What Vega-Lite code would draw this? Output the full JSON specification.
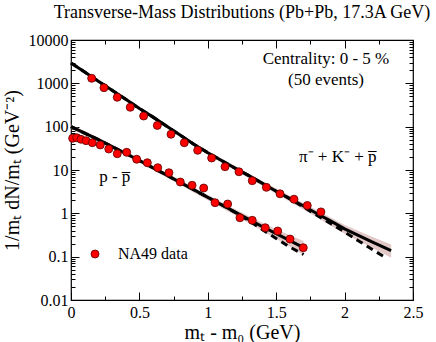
{
  "$schema": "https://vega.github.io/schema/vega-lite/v6.json",
  "width": 342,
  "height": 260,
  "autosize": {"type": "none"},
  "padding": {"left": 71, "top": 40, "right": 23, "bottom": 42},
  "background": "white",
  "config": {
    "font": "Liberation Serif",
    "view": {"stroke": "black", "strokeWidth": 1.2},
    "axis": {"domain": false, "grid": false, "tickColor": "black", "tickWidth": 1, "labelColor": "black", "titleColor": "black", "labelFont": "Liberation Serif", "titleFont": "Liberation Serif", "labelFontSize": 16, "titleFontSize": 20, "titleFontWeight": "normal"}
  },
  "title": {"text": "Transverse-Mass Distributions (Pb+Pb, 17.3A GeV)", "font": "Liberation Serif", "fontSize": 18, "fontWeight": "normal", "color": "black", "anchor": "middle", "offset": 10},
  "datasets": {
    "pts": [
      {"s": "NA49 data", "x": 0.151, "y": 1306}, {"s": "NA49 data", "x": 0.241, "y": 793}, {"s": "NA49 data", "x": 0.338, "y": 476}, {"s": "NA49 data", "x": 0.433, "y": 280}, {"s": "NA49 data", "x": 0.531, "y": 176}, {"s": "NA49 data", "x": 0.631, "y": 107}, {"s": "NA49 data", "x": 0.731, "y": 66.7}, {"s": "NA49 data", "x": 0.828, "y": 42.7}, {"s": "NA49 data", "x": 0.926, "y": 28.5}, {"s": "NA49 data", "x": 1.028, "y": 18.9}, {"s": "NA49 data", "x": 1.126, "y": 11.9}, {"s": "NA49 data", "x": 1.228, "y": 9.1}, {"s": "NA49 data", "x": 1.325, "y": 5.66}, {"s": "NA49 data", "x": 1.428, "y": 3.98}, {"s": "NA49 data", "x": 1.528, "y": 2.82}, {"s": "NA49 data", "x": 1.63, "y": 2.12}, {"s": "NA49 data", "x": 1.727, "y": 1.52}, {"s": "NA49 data", "x": 1.827, "y": 1.08},
      {"s": "NA49 data", "x": 0.012, "y": 53.9}, {"s": "NA49 data", "x": 0.042, "y": 55.6}, {"s": "NA49 data", "x": 0.073, "y": 51.1}, {"s": "NA49 data", "x": 0.11, "y": 47.4}, {"s": "NA49 data", "x": 0.156, "y": 42.7}, {"s": "NA49 data", "x": 0.214, "y": 37.8}, {"s": "NA49 data", "x": 0.276, "y": 30.5}, {"s": "NA49 data", "x": 0.338, "y": 23.8}, {"s": "NA49 data", "x": 0.407, "y": 25.6}, {"s": "NA49 data", "x": 0.48, "y": 17.7}, {"s": "NA49 data", "x": 0.558, "y": 14.7}, {"s": "NA49 data", "x": 0.634, "y": 11.3}, {"s": "NA49 data", "x": 0.716, "y": 8.65}, {"s": "NA49 data", "x": 0.799, "y": 5.28}, {"s": "NA49 data", "x": 0.885, "y": 4.44}, {"s": "NA49 data", "x": 0.97, "y": 3.84}, {"s": "NA49 data", "x": 1.053, "y": 1.76}, {"s": "NA49 data", "x": 1.145, "y": 1.64}, {"s": "NA49 data", "x": 1.235, "y": 0.79}, {"s": "NA49 data", "x": 1.325, "y": 0.69}, {"s": "NA49 data", "x": 1.42, "y": 0.466}, {"s": "NA49 data", "x": 1.511, "y": 0.391}, {"s": "NA49 data", "x": 1.601, "y": 0.255}, {"s": "NA49 data", "x": 1.698, "y": 0.161}
    ],
    "curves": [
      {"c": "u", "x": 0, "y": 2951, "d": 2951}, {"c": "u", "x": 0.1, "y": 1820, "d": 1820}, {"c": "u", "x": 0.2, "y": 1122, "d": 1122}, {"c": "u", "x": 0.3, "y": 692, "d": 692}, {"c": "u", "x": 0.4, "y": 427, "d": 427}, {"c": "u", "x": 0.5, "y": 263, "d": 263}, {"c": "u", "x": 0.6, "y": 166, "d": 166}, {"c": "u", "x": 0.7, "y": 102, "d": 102}, {"c": "u", "x": 0.8, "y": 63.1, "d": 63.1}, {"c": "u", "x": 0.9, "y": 38.9, "d": 38.9}, {"c": "u", "x": 1.0, "y": 25.1, "d": 25.1}, {"c": "u", "x": 1.1, "y": 16.6, "d": 16.6}, {"c": "u", "x": 1.2, "y": 11.0, "d": 11.0}, {"c": "u", "x": 1.3, "y": 7.41, "d": 7.41}, {"c": "u", "x": 1.4, "y": 4.9, "d": 4.9}, {"c": "u", "x": 1.5, "y": 3.24, "d": 3.24}, {"c": "u", "x": 1.6, "y": 2.19, "d": 2.15}, {"c": "u", "x": 1.7, "y": 1.48, "d": 1.4}, {"c": "u", "x": 1.8, "y": 0.977, "d": 0.891}, {"c": "u", "x": 1.9, "y": 0.661, "d": 0.575}, {"c": "u", "x": 2.0, "y": 0.437, "d": 0.372}, {"c": "u", "x": 2.1, "y": 0.309, "d": 0.234}, {"c": "u", "x": 2.2, "y": 0.219, "d": 0.148}, {"c": "u", "x": 2.3, "y": 0.158, "d": 0.095}, {"c": "u", "x": 2.34, "y": 0.138},
      {"c": "l", "x": 0, "y": 100, "d": 100}, {"c": "l", "x": 0.1, "y": 70.8, "d": 70.8}, {"c": "l", "x": 0.2, "y": 50.1, "d": 50.1}, {"c": "l", "x": 0.3, "y": 34.7, "d": 34.7}, {"c": "l", "x": 0.4, "y": 24.0, "d": 24.0}, {"c": "l", "x": 0.5, "y": 16.6, "d": 16.6}, {"c": "l", "x": 0.6, "y": 11.2, "d": 11.2}, {"c": "l", "x": 0.7, "y": 7.59, "d": 7.59}, {"c": "l", "x": 0.8, "y": 5.13, "d": 5.13}, {"c": "l", "x": 0.9, "y": 3.47, "d": 3.47}, {"c": "l", "x": 1.0, "y": 2.34, "d": 2.34}, {"c": "l", "x": 1.1, "y": 1.58, "d": 1.58}, {"c": "l", "x": 1.2, "y": 1.07, "d": 1.05}, {"c": "l", "x": 1.3, "y": 0.724, "d": 0.676}, {"c": "l", "x": 1.4, "y": 0.49, "d": 0.417}, {"c": "l", "x": 1.5, "y": 0.339, "d": 0.263}, {"c": "l", "x": 1.6, "y": 0.234, "d": 0.166}, {"c": "l", "x": 1.7, "y": 0.162, "d": 0.112}
    ],
    "band": [
      {"c": "u", "x": 0, "lo": 2700, "hi": 3200}, {"c": "u", "x": 0.2, "lo": 1030, "hi": 1220}, {"c": "u", "x": 0.4, "lo": 390, "hi": 465}, {"c": "u", "x": 0.6, "lo": 152, "hi": 180}, {"c": "u", "x": 0.8, "lo": 57, "hi": 69}, {"c": "u", "x": 1.0, "lo": 22.5, "hi": 27.8}, {"c": "u", "x": 1.2, "lo": 9.8, "hi": 12.3}, {"c": "u", "x": 1.4, "lo": 4.3, "hi": 5.5}, {"c": "u", "x": 1.6, "lo": 1.85, "hi": 2.55}, {"c": "u", "x": 1.8, "lo": 0.8, "hi": 1.17}, {"c": "u", "x": 2.0, "lo": 0.34, "hi": 0.54}, {"c": "u", "x": 2.2, "lo": 0.16, "hi": 0.29}, {"c": "u", "x": 2.34, "lo": 0.095, "hi": 0.19},
      {"c": "l", "x": 0, "lo": 88, "hi": 112}, {"c": "l", "x": 0.2, "lo": 45, "hi": 56}, {"c": "l", "x": 0.4, "lo": 21.5, "hi": 26.8}, {"c": "l", "x": 0.6, "lo": 10, "hi": 12.6}, {"c": "l", "x": 0.8, "lo": 4.5, "hi": 5.8}, {"c": "l", "x": 1.0, "lo": 2.0, "hi": 2.7}, {"c": "l", "x": 1.2, "lo": 0.9, "hi": 1.25}, {"c": "l", "x": 1.4, "lo": 0.39, "hi": 0.6}, {"c": "l", "x": 1.6, "lo": 0.17, "hi": 0.31}, {"c": "l", "x": 1.7, "lo": 0.11, "hi": 0.23}
    ],
    "notes": [
      {"t": "Centrality: 0 - 5 %", "x": 1.864, "y": 3630},
      {"t": "(50 events)", "x": 1.864, "y": 1194},
      {"t": "π⁻ + K⁻ + p̅", "x": 1.95, "y": 20},
      {"t": "p - p̅", "x": 0.32, "y": 6.8}
    ]
  },
  "layer": [
    {
      "data": {"name": "band"},
      "mark": {"type": "area", "color": "#d9b6b6", "opacity": 0.75},
      "encoding": {
        "x": {"field": "x", "type": "quantitative", "scale": {"domain": [0, 2.5], "nice": false},
          "axis": {"orient": "bottom", "title": "mₜ - m₀ (GeV)", "values": [0, 0.25, 0.5, 0.75, 1, 1.25, 1.5, 1.75, 2, 2.25, 2.5],
            "labelExpr": "datum.value % 0.5 == 0 ? format(datum.value, '~g') : ''",
            "tickSize": {"condition": {"test": "datum.value % 0.5 == 0", "value": -8}, "value": -4},
            "labelPadding": 12, "titlePadding": 2, "labelFlush": false}},
        "y": {"field": "lo", "type": "quantitative", "scale": {"type": "log", "domain": [0.01, 10000], "nice": false},
          "axis": {"orient": "left", "title": "1/mₜ dN/mₜ (GeV⁻²)",
            "values": [0.01,0.02,0.03,0.04,0.05,0.06,0.07,0.08,0.09,0.1,0.2,0.3,0.4,0.5,0.6,0.7,0.8,0.9,1,2,3,4,5,6,7,8,9,10,20,30,40,50,60,70,80,90,100,200,300,400,500,600,700,800,900,1000,2000,3000,4000,5000,6000,7000,8000,9000,10000],
            "labelExpr": "abs(log(datum.value)/LN10 - round(log(datum.value)/LN10)) < 0.001 ? format(datum.value, '~g') : ''",
            "tickSize": {"condition": {"test": "abs(log(datum.value)/LN10 - round(log(datum.value)/LN10)) < 0.001", "value": -8}, "value": -4},
            "labelPadding": 11, "labelFlush": false, "titlePadding": 6}},
        "y2": {"field": "hi"},
        "detail": {"field": "c"}
      }
    },
    {
      "data": {"name": "curves"},
      "mark": {"type": "line", "color": "black", "strokeWidth": 3},
      "encoding": {
        "x": {"field": "x", "type": "quantitative",
          "axis": {"orient": "top", "title": null, "labels": false, "values": [0, 0.25, 0.5, 0.75, 1, 1.25, 1.5, 1.75, 2, 2.25, 2.5],
            "tickSize": {"condition": {"test": "datum.value % 0.5 == 0", "value": -8}, "value": -4}}},
        "y": {"field": "y", "type": "quantitative",
          "axis": {"orient": "right", "title": null, "labels": false,
            "values": [0.01,0.02,0.03,0.04,0.05,0.06,0.07,0.08,0.09,0.1,0.2,0.3,0.4,0.5,0.6,0.7,0.8,0.9,1,2,3,4,5,6,7,8,9,10,20,30,40,50,60,70,80,90,100,200,300,400,500,600,700,800,900,1000,2000,3000,4000,5000,6000,7000,8000,9000,10000],
            "tickSize": {"condition": {"test": "abs(log(datum.value)/LN10 - round(log(datum.value)/LN10)) < 0.001", "value": -8}, "value": -4}}},
        "detail": {"field": "c"}
      }
    },
    {
      "data": {"name": "curves"},
      "transform": [{"filter": "datum.d != null"}],
      "mark": {"type": "line", "color": "black", "strokeWidth": 3, "strokeDash": [7, 5]},
      "encoding": {
        "x": {"field": "x", "type": "quantitative", "axis": null},
        "y": {"field": "d", "type": "quantitative", "axis": null},
        "detail": {"field": "c"}
      }
    },
    {
      "data": {"name": "pts"},
      "mark": {"type": "point", "filled": true, "size": 64, "stroke": "#5a0000", "strokeWidth": 0.8, "opacity": 1},
      "encoding": {
        "x": {"field": "x", "type": "quantitative", "axis": null},
        "y": {"field": "y", "type": "quantitative", "axis": null},
        "color": {"field": "s", "type": "nominal", "scale": {"domain": ["NA49 data"], "range": ["#ff0000"]},
          "legend": {"orient": "none", "legendX": 16, "legendY": 206, "title": null, "symbolType": "circle", "symbolSize": 64, "symbolStrokeColor": "#5a0000", "symbolStrokeWidth": 0.8, "labelFontSize": 16, "labelFont": "Liberation Serif", "labelColor": "black", "labelOffset": 15, "padding": 0}}
      }
    },
    {
      "data": {"name": "notes"},
      "mark": {"type": "text", "font": "Liberation Serif", "fontSize": 17, "color": "black", "align": "center", "baseline": "middle"},
      "encoding": {
        "x": {"field": "x", "type": "quantitative", "axis": null},
        "y": {"field": "y", "type": "quantitative", "axis": null},
        "text": {"field": "t"}
      }
    }
  ],
  "resolve": {"axis": {"x": "independent", "y": "independent"}}
}
